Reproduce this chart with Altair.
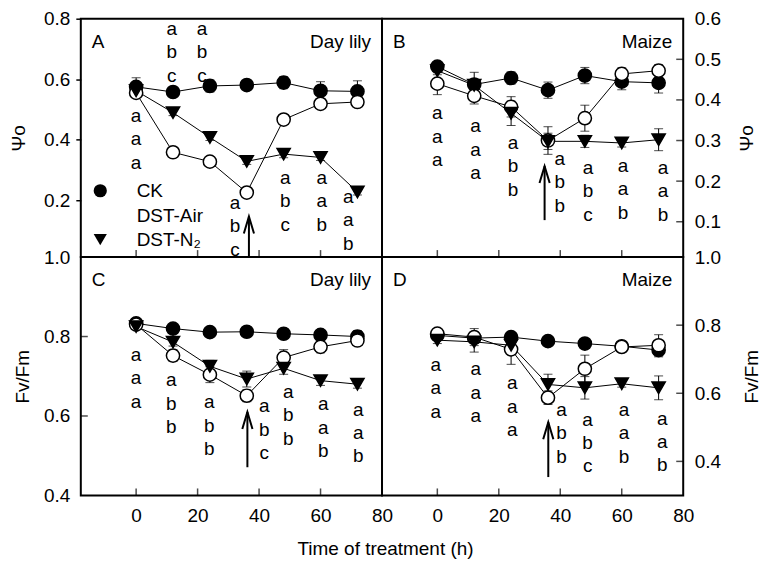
import altair as alt
import pandas as pd

FONT = "Liberation Sans"
FS = 19
W, H = 302, 239
LH = 23.5

times = [0, 12, 24, 36, 48, 60, 72]
series_names = ["CK", "DST-Air", "DST-N₂"]

# ---- Panel A: Day lily, Psi_o ----
a_ck = [0.575, 0.558, 0.578, 0.581, 0.589, 0.562, 0.560]
a_ck_err = [0.03, 0.015, 0.02, 0.015, 0.02, 0.03, 0.035]
a_air = [0.555, 0.359, 0.328, 0.226, 0.467, 0.519, 0.525]
a_air_err = [0.01, 0.01, 0.01, 0.01, 0.01, 0.012, 0.01]
a_n2 = [0.562, 0.490, 0.408, 0.329, 0.353, 0.342, 0.228]
a_n2_err = [0.01, 0.01, 0.01, 0.01, 0.012, 0.01, 0.01]
a_let_x = [0, 11.6, 21.4, 32.2, 48.5, 60.4, 69.0]
a_let_y = [0.402, 0.689, 0.689, 0.115, 0.197, 0.197, 0.135]
a_let_t = ["aaa", "abc", "abc", "abc", "abc", "aab", "aab"]
a_arrow = [36.7, 0.013, 0.147]

# ---- Panel B: Maize, Psi_o ----
b_ck = [0.482, 0.438, 0.454, 0.424, 0.460, 0.445, 0.442]
b_ck_err = [0.01, 0.03, 0.015, 0.02, 0.02, 0.02, 0.025]
b_air = [0.440, 0.410, 0.383, 0.300, 0.355, 0.464, 0.472]
b_air_err = [0.027, 0.02, 0.025, 0.034, 0.032, 0.015, 0.015]
b_n2 = [0.472, 0.436, 0.367, 0.298, 0.298, 0.294, 0.302]
b_n2_err = [0.01, 0.015, 0.03, 0.02, 0.015, 0.01, 0.027]
b_let_x = [0, 12.4, 24.6, 39.8, 49.0, 60.4, 73.4]
b_let_y = [0.309, 0.277, 0.236, 0.197, 0.175, 0.180, 0.175]
b_let_t = ["aaa", "aaa", "abb", "abb", "abc", "aab", "aab"]
b_arrow = [34.9, 0.104, 0.237]

# ---- Panel C: Day lily, Fv/Fm ----
c_ck = [0.833, 0.820, 0.811, 0.812, 0.807, 0.804, 0.800]
c_ck_err = [0.005, 0.005, 0.005, 0.005, 0.005, 0.008, 0.015]
c_air = [0.830, 0.752, 0.704, 0.651, 0.747, 0.774, 0.790]
c_air_err = [0.005, 0.015, 0.02, 0.015, 0.02, 0.015, 0.01]
c_n2 = [0.825, 0.786, 0.725, 0.693, 0.720, 0.689, 0.680]
c_n2_err = [0.005, 0.01, 0.015, 0.02, 0.015, 0.012, 0.01]
c_let_x = [0, 11.4, 23.8, 41.7, 49.5, 60.9, 72.3]
c_let_y = [0.695, 0.631, 0.575, 0.565, 0.602, 0.570, 0.557]
c_let_t = ["aaa", "abb", "abb", "abc", "abb", "aab", "aab"]
c_arrow = [36.2, 0.471, 0.610]

# ---- Panel D: Maize, Fv/Fm ----
d_ck = [0.770, 0.762, 0.765, 0.753, 0.746, 0.738, 0.727]
d_ck_err = [0.005, 0.015, 0.01, 0.01, 0.01, 0.01, 0.02]
d_air = [0.775, 0.765, 0.729, 0.587, 0.672, 0.736, 0.741]
d_air_err = [0.005, 0.025, 0.044, 0.02, 0.04, 0.015, 0.031]
d_n2 = [0.756, 0.751, 0.741, 0.626, 0.616, 0.628, 0.616]
d_n2_err = [0.01, 0.03, 0.01, 0.03, 0.033, 0.01, 0.035]
d_let_x = [-0.5, 12.5, 24.4, 40.4, 48.9, 60.7, 73.2]
d_let_y = [0.615, 0.601, 0.561, 0.483, 0.454, 0.483, 0.457]
d_let_t = ["aaa", "aaa", "aaa", "abb", "abc", "aab", "aab"]
d_arrow = [36.1, 0.354, 0.515]

x_ticks = [0, 20, 40, 60, 80]
x_inner_ticks = [0, 20, 40, 60]


def pts_df(ck, ck_e, air, air_e, n2, n2_e):
    rows = []
    for name, vals, errs in zip(series_names, [ck, air, n2], [ck_e, air_e, n2_e]):
        for t, v, e in zip(times, vals, errs):
            rows.append({"t": t, "v": v, "lo": v - e, "hi": v + e, "series": name})
    return pd.DataFrame(rows)


legend = alt.Legend(
    orient="none", legendX=10, legendY=163, title=None,
    labelFontSize=FS, labelFont=FONT, labelColor="black",
    symbolStrokeColor="black", symbolStrokeWidth=1.5, symbolOpacity=1,
    rowPadding=4, labelOffset=27, padding=0,
)
shape_scale = alt.Scale(domain=series_names, range=["circle", "circle", "triangle-down"])
fill_scale = alt.Scale(domain=series_names, range=["black", "white", "black"])
size_scale = alt.Scale(domain=series_names, range=[175, 175, 230])

xscale = alt.Scale(domain=[-18, 80], nice=False, zero=False)


def panel(df, let_x, let_y, let_t, arrow, ydomain, yaxis, xaxis, yticks_inner, side, tag, species):
    yscale = alt.Scale(domain=ydomain, nice=False, zero=False)
    X = lambda f: alt.X(f, scale=xscale, axis=xaxis, title=None)
    Y = lambda f: alt.Y(f, scale=yscale, axis=yaxis)
    base = alt.Chart(df)
    lines = base.mark_line(color="black", strokeWidth=1).encode(
        x=X("t:Q"), y=Y("v:Q"), detail="series:N")
    bars = base.mark_rule(color="black", strokeWidth=1).encode(
        x=X("t:Q"), y=Y("lo:Q"), y2="hi:Q")
    cap_hi = base.mark_tick(color="black", orient="horizontal", size=9, thickness=1).encode(
        x=X("t:Q"), y=Y("hi:Q"))
    cap_lo = base.mark_tick(color="black", orient="horizontal", size=9, thickness=1).encode(
        x=X("t:Q"), y=Y("lo:Q"))
    points = base.mark_point(filled=True, stroke="black", strokeWidth=1.5, opacity=1).encode(
        x=X("t:Q"), y=Y("v:Q"),
        shape=alt.Shape("series:N", scale=shape_scale, legend=legend),
        fill=alt.Fill("series:N", scale=fill_scale, legend=legend),
        size=alt.Size("series:N", scale=size_scale, legend=legend),
    )
    ldf = pd.DataFrame({"x": let_x, "y": let_y, "txt": ["\n".join(s) for s in let_t]})
    letters = alt.Chart(ldf).mark_text(
        fontSize=FS, font=FONT, lineBreak="\n", lineHeight=LH, dy=-LH,
        baseline="middle", align="center", color="black").encode(
        x=X("x:Q"), y=Y("y:Q"), text="txt:N")
    adf = pd.DataFrame({"x": [arrow[0]], "y0": [arrow[1]], "y1": [arrow[2]]})
    arr = alt.Chart(adf).mark_rule(color="black", strokeWidth=2).encode(
        x=X("x:Q"), y=Y("y0:Q"), y2="y1:Q")
    head = alt.Chart(adf).mark_point(
        shape="M -0.3 1 L 0 0 L 0.3 1", filled=False, stroke="black",
        strokeWidth=2, size=1156, opacity=1).encode(x=X("x:Q"), y=Y("y1:Q"))
    xt = alt.Chart(pd.DataFrame({"t": x_inner_ticks})).mark_tick(
        orient="vertical", color="black", size=7, thickness=1.5).encode(
        x=X("t:Q"), y=alt.value(H - 3.5))
    layers = [lines, bars, cap_hi, cap_lo, points, letters, arr, head, xt]
    if yticks_inner:
        yt = alt.Chart(pd.DataFrame({"v": yticks_inner})).mark_tick(
            orient="horizontal", color="black", size=7, thickness=1.5).encode(
            y=Y("v:Q"), x=alt.value(3.5 if side == "left" else W - 3.5))
        layers.append(yt)
    tdf = pd.DataFrame({"tag": [tag], "sp": [species]})
    tag_t = alt.Chart(tdf).mark_text(
        align="left", baseline="alphabetic", fontSize=FS, font=FONT, color="black").encode(
        x=alt.value(11), y=alt.value(29), text="tag:N")
    sp_t = alt.Chart(tdf).mark_text(
        align="right", baseline="alphabetic", fontSize=FS, font=FONT, color="black").encode(
        x=alt.value(W - 11), y=alt.value(29), text="sp:N")
    layers += [tag_t, sp_t]
    return alt.layer(*layers).properties(width=W, height=H)


def yax(orient, values, title, ticks, pad, tpad):
    kw = dict(orient=orient, values=values, format=".1f", title=title,
              labelFontSize=FS, labelFont=FONT, labelColor="black",
              titleFontSize=FS, titleFont=FONT, titleFontWeight="normal", titleColor="black",
              domain=False, grid=False, labelFlush=False, labelPadding=pad,
              titlePadding=tpad)
    if ticks:
        kw.update(ticks=True, tickSize=5, tickWidth=1.5, tickColor="black")
    else:
        kw.update(ticks=False, tickSize=0)
    if orient == "right":
        kw.update(titleAngle=270)
    return alt.Axis(**kw)


xax_bottom = alt.Axis(values=x_ticks, labelFontSize=FS, labelFont=FONT, labelColor="black",
                      ticks=False, tickSize=0, domain=False, grid=False, labelFlush=False,
                      labelPadding=11, title=None)

pA = panel(pts_df(a_ck, a_ck_err, a_air, a_air_err, a_n2, a_n2_err),
           a_let_x, a_let_y, a_let_t, a_arrow, [0.013, 0.8],
           yax("left", [0.2, 0.4, 0.6, 0.8], "Ψo", True, 6, 15), None, None, "left",
           "A", "Day lily")
pB = panel(pts_df(b_ck, b_ck_err, b_air, b_air_err, b_n2, b_n2_err),
           b_let_x, b_let_y, b_let_t, b_arrow, [0.013, 0.6],
           yax("right", [0.1, 0.2, 0.3, 0.4, 0.5, 0.6], "Ψo", False, 11, 36), None,
           [0.1, 0.2, 0.3, 0.4, 0.5], "right", "B", "Maize")
pC = panel(pts_df(c_ck, c_ck_err, c_air, c_air_err, c_n2, c_n2_err),
           c_let_x, c_let_y, c_let_t, c_arrow, [0.4, 1.0],
           yax("left", [0.4, 0.6, 0.8, 1.0], "Fv/Fm", False, 11, 11), xax_bottom,
           [0.6, 0.8], "left", "C", "Day lily")
pD = panel(pts_df(d_ck, d_ck_err, d_air, d_air_err, d_n2, d_n2_err),
           d_let_x, d_let_y, d_let_t, d_arrow, [0.3, 1.0],
           yax("right", [0.4, 0.6, 0.8, 1.0], "Fv/Fm", False, 11, 41), xax_bottom,
           [0.4, 0.6, 0.8], "right", "D", "Maize")

chart = alt.concat(pA, pB, pC, pD, columns=2, spacing=0, bounds="flush").resolve_scale(
    x="independent", y="independent"
).properties(
    padding=0,
    background="white",
    title=alt.TitleParams("Time of treatment (h)", orient="bottom", anchor="middle",
                          fontSize=FS, font=FONT, fontWeight="normal", color="black",
                          offset=14),
).configure_view(stroke="black", strokeWidth=2)

chart.save("out.html", embed_options={"renderer": "svg", "actions": False})
